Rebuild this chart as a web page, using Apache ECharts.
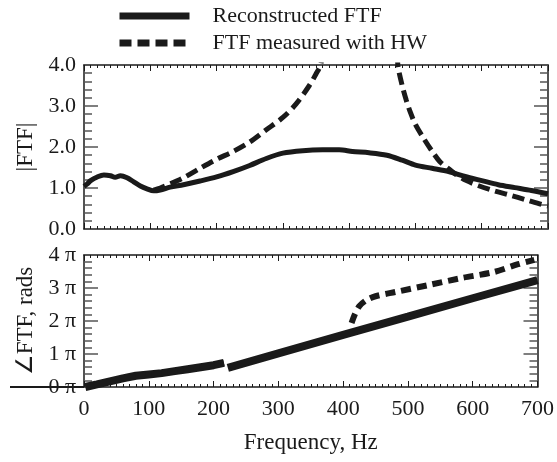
<!DOCTYPE html>
<html><head><meta charset="utf-8">
<script src="https://cdn.jsdelivr.net/npm/echarts@6/dist/echarts.min.js"></script>
<style>html,body{margin:0;padding:0;background:#fff}#c{width:557px;height:462px}</style>
</head><body><div id="c"></div>
<script>
// ---- data ----
const magReconHz = [0,5,10,20,30,40,47,55,65,75,85,95,105,115,130,150,175,200,225,250,275,300,330,360,385,405,430,457,480,500,525,550,575,600,625,650,675,700];
const magRecon   = [1.04,1.1,1.18,1.27,1.32,1.30,1.26,1.30,1.25,1.15,1.05,0.98,0.93,0.95,1.02,1.08,1.17,1.27,1.40,1.55,1.72,1.85,1.91,1.93,1.93,1.89,1.86,1.80,1.68,1.56,1.48,1.40,1.28,1.18,1.08,1.01,0.94,0.86];
const magHWHz = [105,115,130,150,175,200,225,250,275,300,320,340,350,357,365,468,474,480,486,492,500,512,525,537,550,562,577,593,617,642,667,692,700];
const magHW   = [0.95,1.0,1.1,1.25,1.48,1.7,1.89,2.12,2.42,2.72,3.05,3.5,3.78,4.0,4.6,4.6,3.93,3.5,3.15,2.86,2.55,2.22,1.9,1.64,1.47,1.32,1.18,1.07,0.94,0.83,0.71,0.59,0.56];
const phReconHz = [2,20,40,60,80,100,120,140,160,180,200,216,null,222,300,400,500,600,700];
const phRecon   = [0,0.08,0.17,0.26,0.34,0.38,0.42,0.48,0.54,0.60,0.66,0.73,null,0.58,1.02,1.58,2.13,2.69,3.24];
const phHWHz = [80,100,120,140,160,180,200,216,null,413,418,425,435,450,481,532,582,632,670,695];
const phHW   = [0.34,0.38,0.42,0.48,0.54,0.60,0.66,0.73,null,1.94,2.2,2.45,2.62,2.75,2.88,3.09,3.30,3.48,3.72,3.85];
const magTicks = ['0.0','1.0','2.0','3.0','4.0'];
const phTicks = ['0 π','1 π','2 π','3 π','4 π'];
const freqTicks = ['0','100','200','300','400','500','600','700'];
const seriesNames = ['Reconstructed FTF','FTF measured with HW'];

function pairs(xs, ys){ return xs.map((x,i)=> x===null ? [null,null] : [x, ys[i]]); }

const FONT = 'Liberation Serif';
const ink = '#1a1a1a';
function xAx(gi, pos, labels){
  return {type:'value', gridIndex:gi, position:pos, min:0, max:700, interval:100,
    axisLine:{show:true, onZero:false, lineStyle:{color:ink, width:1.5}},
    axisTick:{show:true, inside:true, length:6, lineStyle:{color:ink,width:1}},
    minorTick:{show:true, splitNumber:10, length:3, lineStyle:{color:ink,width:1}},
    splitLine:{show:false},
    axisLabel:{show:labels, color:ink, fontFamily:FONT, fontSize:22, margin:11,
      formatter:(v)=>freqTicks[Math.round(v/100)]}
  };
}
function yAx(gi, pos, labels, ticks){
  return {type:'value', gridIndex:gi, position:pos, min:0, max:4, interval:1,
    axisLine:{show:true, onZero:false, lineStyle:{color:ink, width:1.5}},
    axisTick:{show:true, inside:true, length:14, lineStyle:{color:'#555',width:1.5}},
    minorTick:{show:true, splitNumber:5, length:8, lineStyle:{color:'#555',width:1.5}},
    splitLine:{show:false},
    axisLabel:{show:labels, color:ink, fontFamily:FONT, fontSize:22, margin:8,
      formatter:(v)=>ticks[Math.round(v)]}
  };
}
const xAxes = [xAx(0,'bottom',false), xAx(0,'top',false), xAx(1,'bottom',true), xAx(1,'top',false)];
xAxes[2].name = 'Frequency, Hz'; xAxes[2].nameLocation='middle'; xAxes[2].nameGap=44;
xAxes[2].nameTextStyle = {color:ink, fontFamily:FONT, fontSize:23};
const yAxes = [yAx(0,'left',true,magTicks), yAx(0,'right',false,magTicks), yAx(1,'left',true,phTicks), yAx(1,'right',false,phTicks)];
yAxes[0].name='|FTF|'; yAxes[2].name='∠FTF, rads';
[0,2].forEach(i=>{ yAxes[i].nameLocation='middle'; yAxes[i].nameGap=45;
  yAxes[i].nameTextStyle={color:ink, fontFamily:FONT, fontSize:23}; });

const option = {
  animation:false,
  backgroundColor:'#fff',
  color:[ink, ink],
  grid:[{left:84,right:9,top:65,height:164},{left:84,right:9,top:255,height:132}],
  legend:{orient:'vertical', left:111, top:0, itemWidth:70, itemHeight:14, itemGap:5,
    data:seriesNames, textStyle:{color:ink, fontFamily:FONT, fontSize:22, padding:[0,0,0,18]},
    lineStyle:{width:7}, itemStyle:{opacity:0}, selectedMode:false},
  xAxis:xAxes, yAxis:yAxes,
  series:[
    {name:seriesNames[0], type:'line', xAxisIndex:0, yAxisIndex:0, data:pairs(magReconHz,magRecon),
      showSymbol:false, symbol:'none', smooth:0.3, itemStyle:{color:ink}, lineStyle:{color:ink,width:5}, z:3},
    {name:seriesNames[1], type:'line', xAxisIndex:0, yAxisIndex:0, data:pairs(magHWHz,magHW),
      showSymbol:false, symbol:'none', smooth:0.3, clip:true, itemStyle:{color:ink}, lineStyle:{color:ink,width:5,type:[12,6]}, z:4},
    {name:seriesNames[0], type:'line', xAxisIndex:2, yAxisIndex:2, data:pairs(phReconHz,phRecon),
      showSymbol:false, symbol:'none', connectNulls:false, itemStyle:{color:ink}, lineStyle:{color:ink,width:8}, z:3},
    {name:seriesNames[1], type:'line', xAxisIndex:2, yAxisIndex:2, data:pairs(phHWHz,phHW),
      showSymbol:false, symbol:'none', smooth:0.3, connectNulls:false, itemStyle:{color:ink}, lineStyle:{color:ink,width:6,type:[10,6]}, z:4}
  ]
};
const chart = echarts.init(document.getElementById('c'), null, {renderer:'canvas'});
chart.setOption(option);
// extension of the lower panel baseline to the left edge, as in the reference
const g = chart.getModel().getComponent('grid',1).coordinateSystem.getRect();
chart.setOption({graphic:[{type:'line', shape:{x1:10, y1:g.y+g.height, x2:g.x, y2:g.y+g.height},
  style:{stroke:ink, lineWidth:2}, z:10}]});
</script></body></html>
